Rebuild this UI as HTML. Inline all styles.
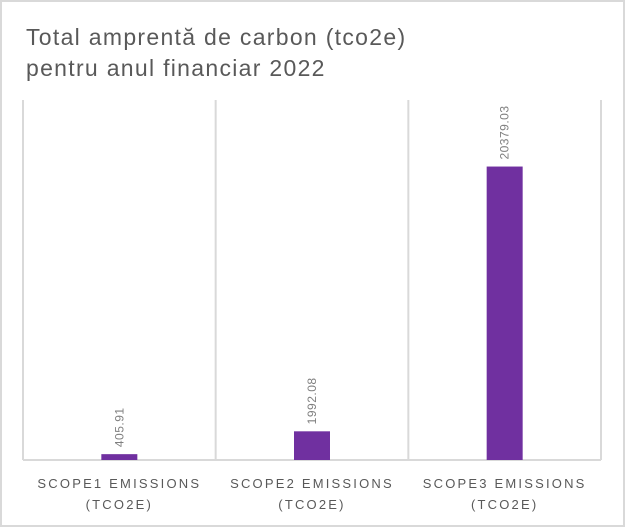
<!DOCTYPE html>
<html><head><meta charset="utf-8"><style>
body{margin:0;background:#fff}
svg{display:block;font-family:"Liberation Sans",sans-serif}
</style></head><body>
<svg id="chart" width="625" height="527">
<rect x="1" y="1" width="623" height="525" fill="#fff" stroke="#d9d9d9" stroke-width="2"/>
<text x="26" y="45" font-size="23" fill="#595959" letter-spacing="1.3">Total amprentă de carbon (tco2e)</text>
<text x="26" y="76" font-size="23" fill="#595959" letter-spacing="1.3">pentru anul financiar 2022</text>
<g id="plot"></g>
</svg>
<script>
const categories=["SCOPE1 EMISSIONS","SCOPE2 EMISSIONS","SCOPE3 EMISSIONS"];
const categorySub=["(TCO2E)","(TCO2E)","(TCO2E)"];
const values=[405.91,1992.08,20379.03];
const labels=["405.91","1992.08","20379.03"];
const yMax=25000;
const ns="http://www.w3.org/2000/svg";
const g=document.getElementById("plot");
const L=23,R=601,T=100,B=460;
const bw=(R-L)/categories.length;
const x=i=>L+bw*i;
const y=v=>B-(v/yMax)*(B-T);
function mk(t,a){const e=document.createElementNS(ns,t);for(const k in a)e.setAttribute(k,a[k]);g.appendChild(e);return e;}
for(let i=0;i<=categories.length;i++){
 const l=mk("line",{x1:x(i),x2:x(i),y1:T,y2:B,stroke:"#d9d9d9","stroke-width":2});
 
 
}
const ax=mk("line",{x1:L,x2:R,y1:B,y2:B,stroke:"#d9d9d9","stroke-width":2});


categories.forEach((c,i)=>{
 const cx=x(i)+bw/2, w=36;
 const r=mk("rect",{x:cx-w/2,y:y(values[i]),width:w,height:B-y(values[i]),fill:"#7030a0"});
 
 
 const ty=y(values[i])-7;
 const t=mk("text",{x:cx+4,y:ty,transform:`rotate(-90 ${cx+4} ${ty})`,"font-size":12,fill:"#7f7f7f","letter-spacing":0.5});
 t.textContent=labels[i];
 
 
 const a=mk("text",{x:cx,y:488,"text-anchor":"middle","font-size":13,fill:"#595959","letter-spacing":2.2});
 a.textContent=c;
 
 
 const b=mk("text",{x:cx,y:509,"text-anchor":"middle","font-size":13,fill:"#595959","letter-spacing":2.2});
 b.textContent=categorySub[i];
 
 
});
</script>
</body></html>
